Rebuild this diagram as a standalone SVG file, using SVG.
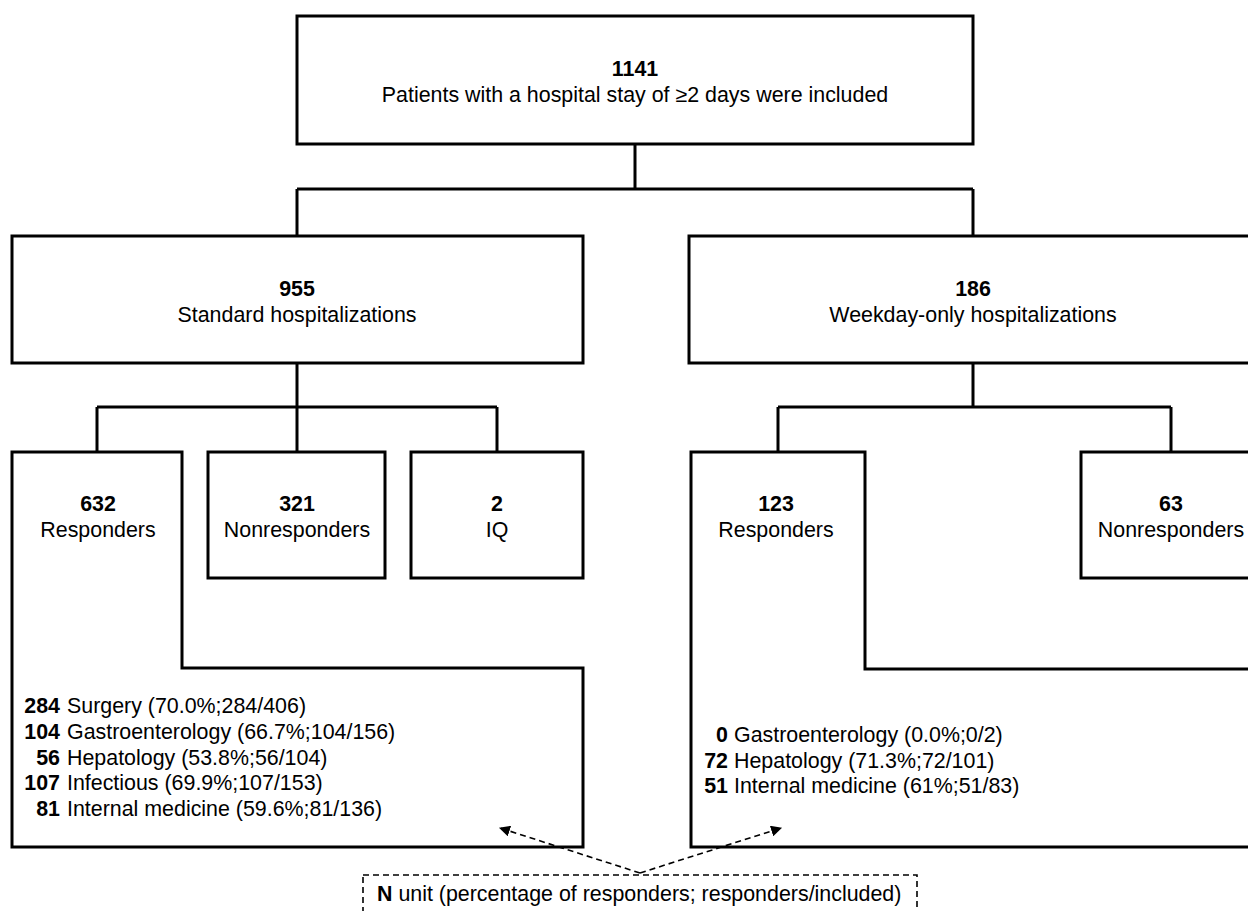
<svg xmlns="http://www.w3.org/2000/svg" width="1248" height="911" viewBox="0 0 1248 911">
<defs>
<style>
.box{fill:#fff;stroke:#000;stroke-width:3}
.con{fill:none;stroke:#000;stroke-width:3}
.dash{fill:none;stroke:#000;stroke-width:1.6;stroke-dasharray:6 4}
text{font-family:"Liberation Sans",Arial,sans-serif;font-size:21.4px;fill:#000}
.c{text-anchor:middle}
.r{text-anchor:end}
.b{font-weight:bold}
</style>
<marker id="ah" viewBox="0 0 10 10" refX="9" refY="5" markerWidth="11" markerHeight="11" markerUnits="userSpaceOnUse" orient="auto">
<path d="M0,0 L10,5 L0,10 Z" fill="#000"/>
</marker>
</defs>
<rect width="1248" height="911" fill="#fff"/>
<g id="n1141">
<rect class="box" x="297" y="16" width="676" height="128"/>
<text class="c b" x="635" y="76">1141</text>
<text class="c" x="635" y="102">Patients with a hospital stay of ≥2 days were included</text>
</g>
<g id="n955">
<rect class="box" x="12" y="236" width="571" height="127"/>
<text class="c b" x="297" y="296">955</text>
<text class="c" x="297" y="322">Standard hospitalizations</text>
</g>
<g id="n186">
<rect class="box" x="689" y="236" width="580" height="127"/>
<text class="c b" x="973" y="296">186</text>
<text class="c" x="973" y="322">Weekday-only hospitalizations</text>
</g>
<g id="n632">
<path class="box" d="M12,452 H182 V668 H583 V847 H12 Z"/>
<text class="c b" x="98" y="511">632</text>
<text class="c" x="98" y="537">Responders</text>
<text class="r b" x="60" y="713">284</text>
<text x="67" y="713">Surgery (70.0%;284/406)</text>
<text class="r b" x="60" y="739">104</text>
<text x="67" y="739">Gastroenterology (66.7%;104/156)</text>
<text class="r b" x="60" y="765">56</text>
<text x="67" y="765">Hepatology (53.8%;56/104)</text>
<text class="r b" x="60" y="790">107</text>
<text x="67" y="790">Infectious (69.9%;107/153)</text>
<text class="r b" x="60" y="816">81</text>
<text x="67" y="816">Internal medicine (59.6%;81/136)</text>
</g>
<g id="n321">
<rect class="box" x="208" y="452" width="177" height="126"/>
<text class="c b" x="297" y="511">321</text>
<text class="c" x="297" y="537">Nonresponders</text>
</g>
<g id="n2">
<rect class="box" x="411" y="452" width="172" height="126"/>
<text class="c b" x="497" y="511">2</text>
<text class="c" x="497" y="537">IQ</text>
</g>
<g id="n123">
<path class="box" d="M691,452 H865 V669 H1270 V847 H691 Z"/>
<text class="c b" x="776" y="511">123</text>
<text class="c" x="776" y="537">Responders</text>
<text class="r b" x="728" y="742">0</text>
<text x="734" y="742">Gastroenterology (0.0%;0/2)</text>
<text class="r b" x="728" y="768">72</text>
<text x="734" y="768">Hepatology (71.3%;72/101)</text>
<text class="r b" x="728" y="793">51</text>
<text x="734" y="793">Internal medicine (61%;51/83)</text>
</g>
<g id="n63">
<rect class="box" x="1081" y="452" width="190" height="126"/>
<text class="c b" x="1171" y="511">63</text>
<text class="c" x="1171" y="537">Nonresponders</text>
</g>
<g id="legend">
<rect class="dash" x="363" y="875" width="554" height="60"/>
<text x="377" y="901"><tspan class="b">N</tspan> unit (percentage of responders; responders/included)</text>
</g>
<g id="connectors">
<path class="con" d="M635,144 V189 M297,189 H973 M297,189 V236 M973,189 V236"/>
<path class="con" d="M297,363 V407 M97,407 H497 M97,407 V452 M297,407 V452 M497,407 V452"/>
<path class="con" d="M973,363 V407 M778,407 H1171 M778,407 V452 M1171,407 V452"/>
<path class="dash" d="M640,873 L500,828" marker-end="url(#ah)"/>
<path class="dash" d="M640,873 L781,828" marker-end="url(#ah)"/>
</g>
</svg>
